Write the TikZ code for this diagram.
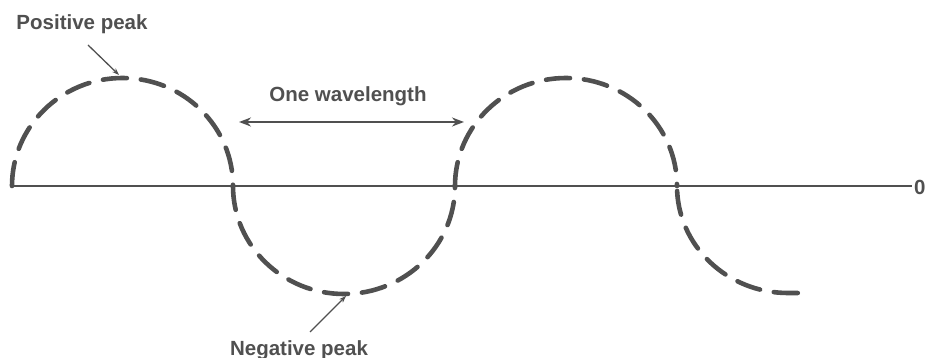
\documentclass[tikz,border=0pt]{standalone}
\usepackage{fontspec}
\setmainfont{Liberation Sans}
\usetikzlibrary{arrows.meta}
\definecolor{ink}{HTML}{505050}
\begin{document}
\begin{tikzpicture}[x=1pt,y=-1pt,
  wave/.style={draw=ink,line width=4.6pt,line cap=round,dash pattern=on 24pt off 14pt},
  axis/.style={draw=ink,line width=2pt},
  lbl/.style={text=ink,font=\fontsize{20.5}{24}\selectfont\bfseries,inner sep=0pt},
  pointer/.style={draw=ink,line width=1.3pt,-{Stealth[length=7pt,width=5pt]}},
  span/.style={draw=ink,line width=2.3pt,{Stealth[length=12pt,width=9pt]}-{Stealth[length=12pt,width=9pt]}}]
\useasboundingbox (0,0) rectangle (927,358);
% axis
\coordinate (a0) at (12,186);
\coordinate (a1) at (912,186);
\draw[axis] (a0) -- (a1);
\node[lbl,anchor=west] (zero) at (914,187) {0};
% wave
\draw[wave] (12,186) arc[start angle=180,end angle=360,x radius=110.5,y radius=108];
\draw[wave] (233,186) arc[start angle=180,end angle=0,x radius=111,y radius=108];
\draw[wave] (455,186) arc[start angle=180,end angle=360,x radius=111,y radius=108];
\draw[wave,dash phase=33pt] (677,186) arc[start angle=180,end angle=90,x radius=111,y radius=107] -- (801,293);
\coordinate (ppk) at (119,75);
\coordinate (npk) at (346,296);
% labels
\node[lbl,anchor=base] (pos) at (82,30) {Positive peak};
\node[lbl,anchor=base] (neg) at (299,355) {Negative peak};
\node[lbl,anchor=base] (wl) at (348,102) {One wavelength};
\coordinate (wlL) at (239,122);
\coordinate (wlR) at (464,122);
\draw[pointer] (88,45) -- (ppk);
\draw[pointer] (310,332) -- (npk);
\draw[span] (wlL) -- (wlR);
\end{tikzpicture}
\end{document}
